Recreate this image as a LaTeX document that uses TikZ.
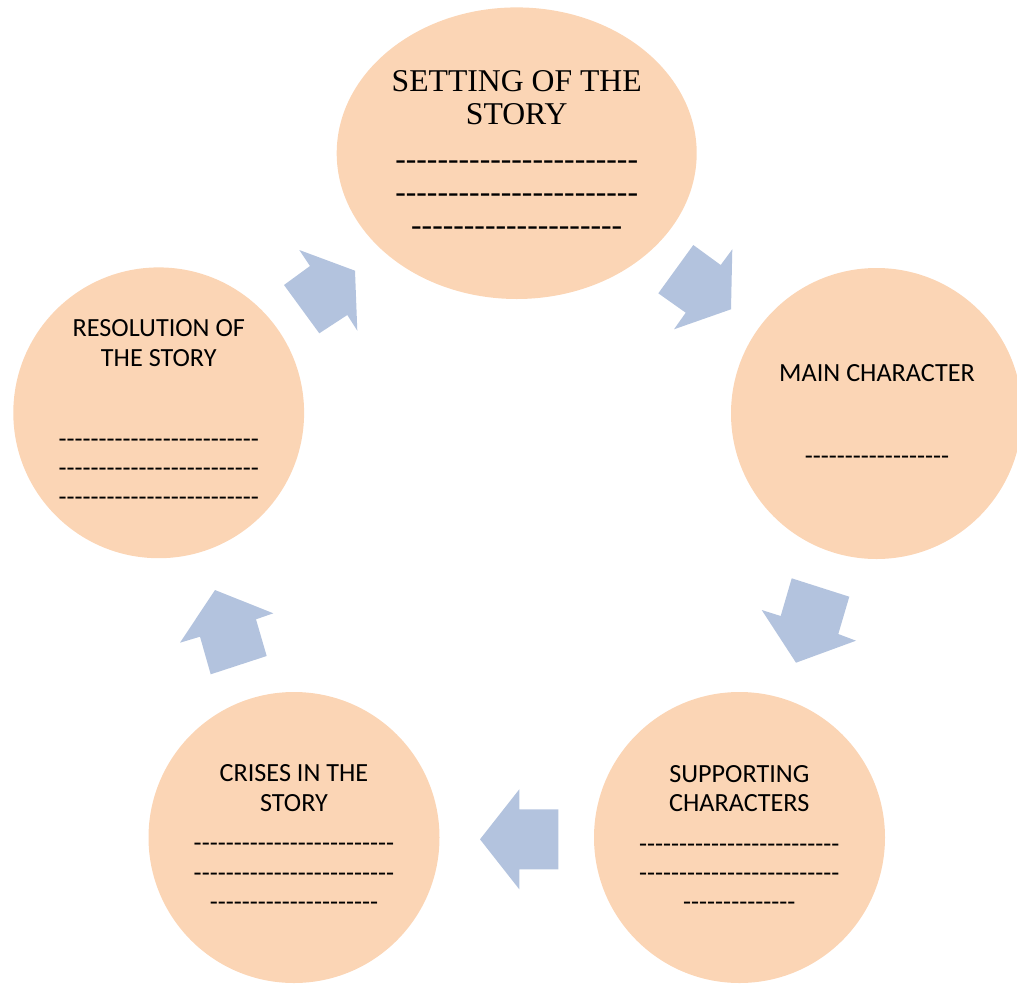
\documentclass[tikz,border=0pt]{standalone}
\usepackage{fontspec}
\setmainfont{Liberation Serif}[Ligatures=TeXOff]
\newfontfamily\calfont{Carlito}[Ligatures=TeXOff]
\definecolor{peach}{HTML}{FBD5B5}
\definecolor{arrowblue}{HTML}{B3C3DE}
\begin{document}
\begin{tikzpicture}[x=1pt,y=-1pt,
  bubble/.style={fill=peach,draw=none},
  blockarrow/.style={fill=arrowblue,draw=none},
  sertext/.style={anchor=base,inner sep=0pt,font=\fontsize{31.7}{32}\selectfont},
  caltext/.style={anchor=base,inner sep=0pt,font=\calfont\fontsize{26.2}{30}\selectfont}]
\useasboundingbox (0,0) rectangle (1017,983);
\begin{scope}
\clip (0,0) rectangle (1017,983);
% circles
\fill[bubble] (516.7,153.2) ellipse [x radius=180, y radius=145.8];
\fill[bubble] (876.5,413.5) circle [radius=145.5];
\fill[bubble] (739.5,837.5) circle [radius=145.5];
\fill[bubble] (294,837.5) circle [radius=145.5];
\fill[bubble] (158.7,412.8) circle [radius=145.4];
% block arrows
\fill[blockarrow] (299.3,250) -- (355,270.7) -- (357.3,330.7) -- (347.3,315) -- (319.3,333.3) -- (284,285) -- (310,266) -- cycle;
\fill[blockarrow] (693.3,245) -- (720.7,265) -- (732.3,249.3) -- (731,309.3) -- (674,329.3) -- (685.7,312.7) -- (658.3,293.3) -- cycle;
\fill[blockarrow] (791.7,578.3) -- (849.3,596.7) -- (838.3,634) -- (856,640.7) -- (796,662.7) -- (761.7,610) -- (780.7,616) -- cycle;
\fill[blockarrow] (519.3,789.3) -- (519.3,809.3) -- (558.3,809.3) -- (558.3,869.3) -- (519.3,869.3) -- (519.3,889.3) -- (480,839.3) -- cycle;
\fill[blockarrow] (215,590) -- (273.3,613.3) -- (256,619.3) -- (266.7,656) -- (210.7,674.3) -- (200,636.7) -- (180,642.7) -- cycle;
\end{scope}
% top: setting
\node[sertext] (s1) at (516.7,91.7) {SETTING OF THE};
\node[sertext] (s2) at (516.7,124) {STORY};
\node[sertext] (s3) at (516.7,169.5) {-----------------------};
\node[sertext] (s4) at (516.7,202.9) {-----------------------};
\node[sertext] (s5) at (516.7,235.5) {--------------------};
% main character
\node[caltext] (m1) at (877,381.7) {MAIN CHARACTER};
\node[caltext] (m2) at (877,464) {------------------};
% supporting
\node[caltext] (p1) at (739.3,782.7) {SUPPORTING};
\node[caltext] (p2) at (739.3,811) {CHARACTERS};
\node[caltext] (p3) at (739.3,852.3) {-------------------------};
\node[caltext] (p4) at (739.3,881.3) {-------------------------};
\node[caltext] (p5) at (739.3,910.3) {--------------};
% crises
\node[caltext] (c1) at (294,781.7) {CRISES IN THE};
\node[caltext] (c2) at (294,811) {STORY};
\node[caltext] (c3) at (294,851.6) {-------------------------};
\node[caltext] (c4) at (294,881.3) {-------------------------};
\node[caltext] (c5) at (294,910.3) {---------------------};
% resolution
\node[caltext] (r1) at (158.8,336) {RESOLUTION OF};
\node[caltext] (r2) at (158.8,366) {THE STORY};
\node[caltext] (r3) at (158.8,447.3) {-------------------------};
\node[caltext] (r4) at (158.8,476.3) {-------------------------};
\node[caltext] (r5) at (158.8,505.3) {-------------------------};
\end{tikzpicture}
\end{document}
